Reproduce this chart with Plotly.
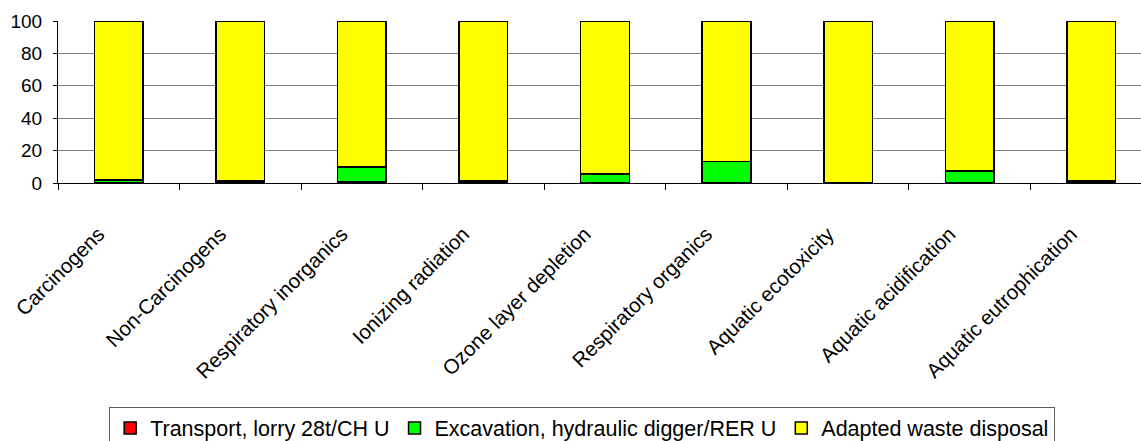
import plotly.graph_objects as go

categories = ["Carcinogens", "Non-Carcinogens", "Respiratory inorganics", "Ionizing radiation",
              "Ozone layer depletion", "Respiratory organics", "Aquatic ecotoxicity",
              "Aquatic acidification", "Aquatic eutrophication"]
transport = [0.4, 0.6, 1.0, 0.6, 0.3, 0.3, 0.1, 0.3, 0.6]
excavation = [1.5, 0.5, 9.0, 0.5, 5.2, 12.9, 0.2, 7.2, 0.5]
adapted = [100 - t - e for t, e in zip(transport, excavation)]

series = [
    ("Transport, lorry 28t/CH U", transport, "#ff0000"),
    ("Excavation, hydraulic digger/RER U", excavation, "#00ff00"),
    ("Adapted waste disposal", adapted, "#ffff00"),
]

fig = go.Figure()
for name, vals, col in series:
    fig.add_trace(go.Bar(x=categories, y=vals, name=name, width=0.4,
                         marker=dict(color=col, line=dict(color="black", width=1.5))))

font = "Liberation Sans, Arial, sans-serif"
fig.update_layout(
    width=1141, height=441, barmode="stack",
    margin=dict(l=58, r=0, t=21, b=258, autoexpand=False),
    paper_bgcolor="white", plot_bgcolor="white",
    font=dict(family=font, size=20, color="black"),
    showlegend=True,
    legend=dict(orientation="h", x=0.484, xanchor="center", y=-1.38, yanchor="top",
                bordercolor="#606060", borderwidth=1, font=dict(size=21.5),
                traceorder="normal", tracegroupgap=0),
)
fig.update_xaxes(range=[-0.5, 8.41], tickangle=-45, ticks="outside", tickson="boundaries",
                 ticklen=6, tickcolor="black", showline=True, linecolor="black", linewidth=1,
                 showgrid=False, tickfont=dict(size=20.5), automargin=False,
                 tickmode="array", tickvals=categories,
                 ticktext=[c + "\u00a0" * 5 for c in categories],
                 ticklabelstandoff=10)
fig.update_yaxes(range=[0, 100], dtick=20, ticks="outside", ticklen=4, tickcolor="black",
                 showline=True, linecolor="black", linewidth=1, automargin=False,
                 showgrid=True, gridcolor="#808080", gridwidth=1, tickfont=dict(size=19),
                 zeroline=False, ticklabelstandoff=7)
fig.write_html("out.html", config={"displayModeBar": False},
               post_script="document.body.style.margin='0';")
